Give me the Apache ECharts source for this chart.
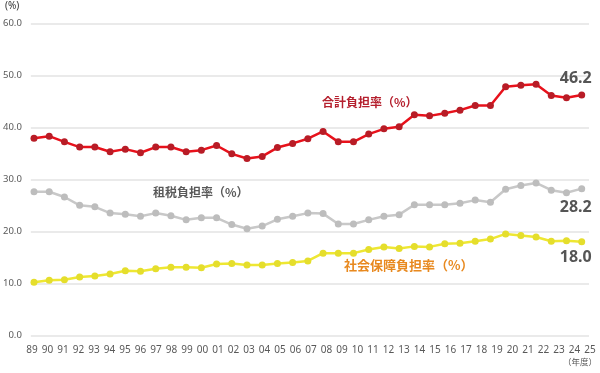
<!DOCTYPE html>
<html>
<head>
<meta charset="utf-8">
<script src="https://cdn.jsdelivr.net/npm/echarts@6/dist/echarts.min.js"></script>
<style>html,body{margin:0;padding:0;background:#fff}#c{width:600px;height:373px}</style>
</head>
<body>
<div id="c"></div>
<script>
const years = ['89','90','91','92','93','94','95','96','97','98','99','00','01','02','03','04','05','06','07','08','09','10','11','12','13','14','15','16','17','18','19','20','21','22','23','24','25'];
const totalRate = [37.9,38.3,37.2,36.2,36.2,35.3,35.8,35.1,36.2,36.2,35.3,35.6,36.5,34.9,34.0,34.4,36.1,36.9,37.8,39.2,37.2,37.2,38.7,39.7,40.1,42.4,42.2,42.7,43.3,44.2,44.2,47.8,48.1,48.3,46.1,45.7,46.2];
const taxRate = [27.6,27.6,26.6,25.0,24.7,23.5,23.3,22.9,23.5,23.0,22.2,22.6,22.6,21.3,20.5,21.0,22.3,22.9,23.5,23.4,21.4,21.4,22.2,22.9,23.2,25.1,25.1,25.1,25.4,26.0,25.6,28.1,28.8,29.3,27.9,27.4,28.2];
const socialRate = [10.2,10.6,10.7,11.2,11.4,11.8,12.4,12.3,12.8,13.1,13.1,13.0,13.7,13.8,13.5,13.5,13.8,14.0,14.3,15.8,15.8,15.8,16.5,17.0,16.7,17.1,17.0,17.6,17.7,18.1,18.5,19.5,19.2,18.9,18.1,18.2,18.0];
const seriesNames = ['合計負担率（%）','租税負担率（%）','社会保障負担率（%）'];
const yTicks = {min: 0, max: 60, interval: 10};

const chart = echarts.init(document.getElementById('c'), null, {renderer: 'canvas'});
const TOP = 23.3, BOTTOM = 37.7;
function withEndLabel(arr, pos, dist) {
  return arr.map((v, i) => i === arr.length - 1 ? {
    value: v,
    label: {show: true, position: pos, distance: dist, offset: [-6, 0], formatter: (p) => p.value.toFixed(1),
      fontSize: 16, fontWeight: 'bold', color: '#555', fontFamily: '"Noto Sans", sans-serif'}
  } : v);
}
const yBase = (gi, show) => ({
  gridIndex: gi, type: 'value', min: yTicks.min, max: yTicks.max, interval: yTicks.interval,
  show: show,
  axisLine: {show: false}, axisTick: {show: false},
  axisLabel: {show: show, margin: 9, fontSize: 9.5, color: '#595959', fontFamily: '"Noto Sans", sans-serif', formatter: (v) => v.toFixed(1)},
  splitLine: {show: show, lineStyle: {color: '#e3e3e3', width: 1.5}}
});
const lineSeries = (name, data, lineColor, dotColor) => ({
  name: name, type: 'line', xAxisIndex: 2, yAxisIndex: 2, data: data,
  symbol: 'circle', symbolSize: 7, showSymbol: true,
  lineStyle: {color: lineColor, width: 2.5},
  itemStyle: {color: dotColor},
  animation: false, z: 3
});
chart.setOption({
  animation: false,
  grid: [
    {left: 26, right: 11, top: TOP, bottom: BOTTOM},
    {left: 32, right: 10, top: TOP, bottom: BOTTOM},
    {left: 34, right: 18.3, top: TOP, bottom: BOTTOM}
  ],
  xAxis: [
    {gridIndex: 0, type: 'value', show: false, min: 0, max: 1},
    {gridIndex: 1, type: 'category', data: years, boundaryGap: false,
      axisLine: {show: false}, axisTick: {show: false}, splitLine: {show: false},
      axisLabel: {interval: 0, margin: 10, fontSize: 10, color: '#595959', fontFamily: '"Noto Sans", sans-serif'}},
    {gridIndex: 2, type: 'category', data: years, boundaryGap: false, show: false}
  ],
  yAxis: [yBase(0, true), yBase(1, false), yBase(2, false)],
  series: [
    lineSeries(seriesNames[1], withEndLabel(taxRate, 'bottom', 7), '#c8c8c8', '#bdbdbd'),
    lineSeries(seriesNames[2], withEndLabel(socialRate, 'bottom', 4), '#eee733', '#e5de2c'),
    lineSeries(seriesNames[0], withEndLabel(totalRate, 'top', 5), '#e8111b', '#b81c26')
  ],
  graphic: [
    {type: 'text', left: 5, top: 1, style: {text: '(%)', fontSize: 10, fill: '#333', fontFamily: '"Noto Sans", sans-serif'}},
    {type: 'text', left: 563, top: 358, style: {text: '（年度）', fontSize: 8.5, fill: '#595959', fontFamily: '"Noto Sans CJK JP", sans-serif'}},
    {type: 'text', left: 322, top: 96, style: {text: seriesNames[0], fontSize: 12, fontWeight: 'bold', fill: '#b5202e', fontFamily: '"Noto Sans CJK JP", sans-serif'}},
    {type: 'text', left: 153, top: 186, style: {text: seriesNames[1], fontSize: 12, fontWeight: 'bold', fill: '#595959', fontFamily: '"Noto Sans CJK JP", sans-serif'}},
    {type: 'text', left: 344, top: 259, style: {text: seriesNames[2], fontSize: 13, fontWeight: 'bold', fill: '#e8891f', fontFamily: '"Noto Sans CJK JP", sans-serif'}}
  ]
});
</script>
</body>
</html>
